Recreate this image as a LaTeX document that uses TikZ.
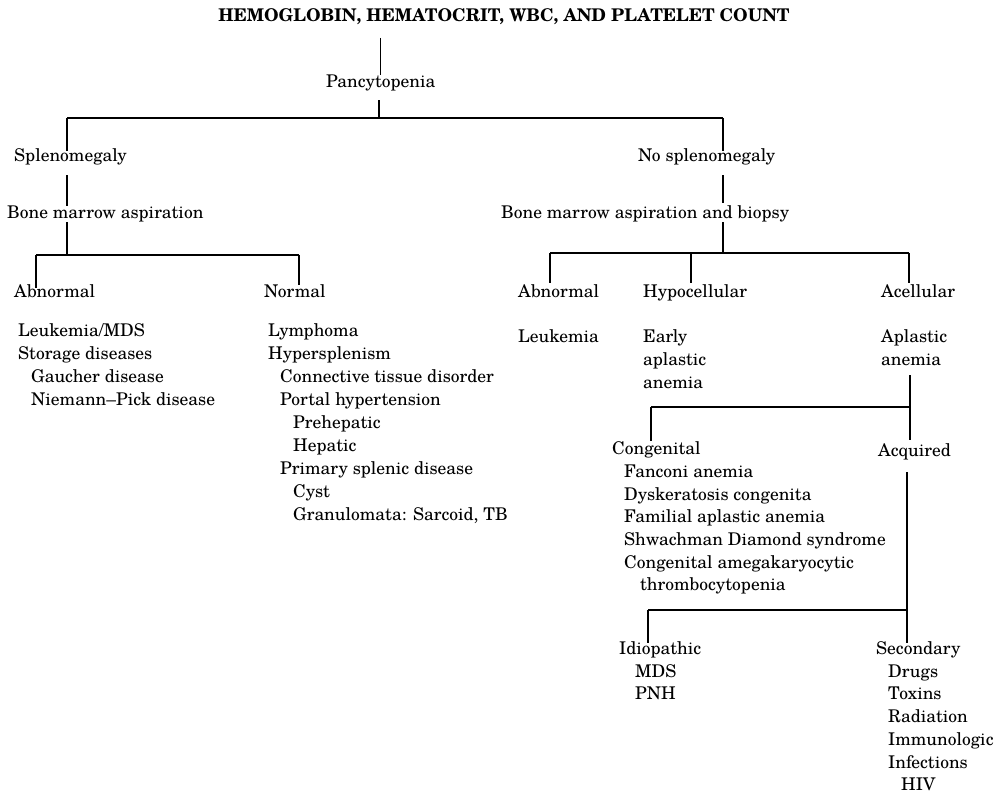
\documentclass[tikz,border=0pt]{standalone}
\usepackage{fontspec}
\setmainfont{texgyreschola}[Extension=.otf, UprightFont=*-regular, BoldFont=*-bold]
\begin{document}
\begin{tikzpicture}[x=1pt, y=-1pt,
  txt/.style={inner sep=0pt, text height=0.72em, text depth=0pt, anchor=west,
    font=\fontsize{17.5}{22.8}\selectfont},
  head/.style={txt, anchor=center, font=\fontsize{17.5}{22.8}\selectfont\bfseries},
  link/.style={line width=1.1pt}]
\useasboundingbox (0,0) rectangle (998,794);

% headings of the tree
\node[head] (title) at (504,18) {HEMOGLOBIN, HEMATOCRIT, WBC, AND PLATELET COUNT};
\node[txt] (pancy) at (326,84) {Pancytopenia};
\node[txt] (spleno) at (14,158) {Splenomegaly};
\node[txt] (nospleno) at (638,158) {No splenomegaly};
\node[txt] (bma) at (7,215) {Bone marrow aspiration};
\node[txt] (bmab) at (501,215) {Bone marrow aspiration and biopsy};

% splenomegaly branch
\node[txt] (abnA) at (14,294) {Abnormal};
\node[txt] (normA) at (264,294) {Normal};
\node[txt] (la1) at (18,333) {Leukemia/MDS};
\node[txt] (la2) at (18,356) {Storage diseases};
\node[txt] (la3) at (31,379) {Gaucher disease};
\node[txt] (la4) at (31,402) {Niemann\textendash Pick disease};
\node[txt] (ln1) at (268,333) {Lymphoma};
\node[txt] (ln2) at (268,356) {Hypersplenism};
\node[txt] (ln3) at (280,379) {Connective tissue disorder};
\node[txt] (ln4) at (280,402) {Portal hypertension};
\node[txt] (ln5) at (293,425) {Prehepatic};
\node[txt] (ln6) at (293,448) {Hepatic};
\node[txt] (ln7) at (280,471) {Primary splenic disease};
\node[txt] (ln8) at (293,494) {Cyst};
\node[txt] (ln9) at (293,517) {Granulomata: Sarcoid, TB};

% no-splenomegaly branch
\node[txt] (abnB) at (518,294) {Abnormal};
\node[txt] (hypo) at (643,294) {Hypocellular};
\node[txt] (acell) at (881,294) {Acellular};
\node[txt] (leuk) at (518,339) {Leukemia};
\node[txt] (ea1) at (643,339) {Early};
\node[txt] (ea2) at (643,362) {aplastic};
\node[txt] (ea3) at (643,385) {anemia};
\node[txt] (aa1) at (881,339) {Aplastic};
\node[txt] (aa2) at (881,362) {anemia};

% aplastic anemia subtypes
\node[txt] (cong) at (612,451) {Congenital};
\node[txt] (acq) at (878,453) {Acquired};
\node[txt] (c1) at (624,474) {Fanconi anemia};
\node[txt] (c2) at (624,497) {Dyskeratosis congenita};
\node[txt] (c3) at (624,519) {Familial aplastic anemia};
\node[txt] (c4) at (624,542) {Shwachman Diamond syndrome};
\node[txt] (c5) at (624,565) {Congenital amegakaryocytic};
\node[txt] (c6) at (640,587) {thrombocytopenia};
\node[txt] (idio) at (619,651) {Idiopathic};
\node[txt] (i1) at (635,674) {MDS};
\node[txt] (i2) at (635,696) {PNH};
\node[txt] (sec) at (876,651) {Secondary};
\node[txt] (s1) at (888,674) {Drugs};
\node[txt] (s2) at (888,696) {Toxins};
\node[txt] (s3) at (888,719) {Radiation};
\node[txt] (s4) at (888,742) {Immunologic};
\node[txt] (s5) at (888,765) {Infections};
\node[txt] (s6) at (901,787) {HIV};

% junction points of the connectors
\coordinate (j1) at (379,118);
\coordinate (j1l) at (67,118);
\coordinate (j1r) at (723,118);
\coordinate (j2) at (67,255);
\coordinate (j2l) at (36,255);
\coordinate (j2r) at (299,255);
\coordinate (j3) at (723,253);
\coordinate (j3l) at (550,253);
\coordinate (j3m) at (691,253);
\coordinate (j3r) at (909,253);
\coordinate (j4) at (910,407);
\coordinate (j4l) at (651,407);
\coordinate (j5) at (907,610);
\coordinate (j5l) at (648,610);

% connectors
\draw[link, shorten <=16pt, shorten >=5.5pt] (pancy.north |- title.south) -- (pancy.north);
\draw[link, shorten <=12.5pt] (pancy.south -| j1) -- (j1);
\draw[link] (j1l) -- (j1r);
\draw[link, shorten >=3.5pt] (j1l) -- (j1l |- spleno.north);
\draw[link, shorten >=3.5pt] (j1r) -- (j1r |- nospleno.north);
\draw[link, shorten <=13.5pt, shorten >=5.5pt] (spleno.south -| j1l) -- (bma.north -| j1l);
\draw[link, shorten <=3.5pt] (bma.south -| j2) -- (j2);
\draw[link, shorten <=13.5pt, shorten >=8pt] (nospleno.south -| j1r) -- (bmab.north -| j1r);
\draw[link, shorten <=3.5pt] (bmab.south -| j3) -- (j3);
\draw[link] (j2l) -- (j2r);
\draw[link, shorten >=2pt] (j2l) -- (j2l |- abnA.north);
\draw[link, shorten >=5pt] (j2r) -- (j2r |- normA.north);
\draw[link] (j3l) -- (j3r);
\draw[link, shorten >=7pt] (j3l) -- (j3l |- abnB.north);
\draw[link, shorten >=7pt] (j3m) -- (j3m |- hypo.north);
\draw[link, shorten >=7pt] (j3r) -- (j3r |- acell.north);
\draw[link, shorten <=9.5pt, shorten >=9.5pt] (aa2.south -| j4) -- (acq.north -| j4);
\draw[link] (j4l) -- (j4);
\draw[link, shorten >=6.5pt] (j4l) -- (j4l |- cong.north);
\draw[link, shorten <=15.5pt, shorten >=4.5pt] (acq.south -| j5) -- (sec.north -| j5);
\draw[link] (j5l) -- (j5);
\draw[link, shorten >=4.5pt] (j5l) -- (j5l |- idio.north);
\end{tikzpicture}
\end{document}
